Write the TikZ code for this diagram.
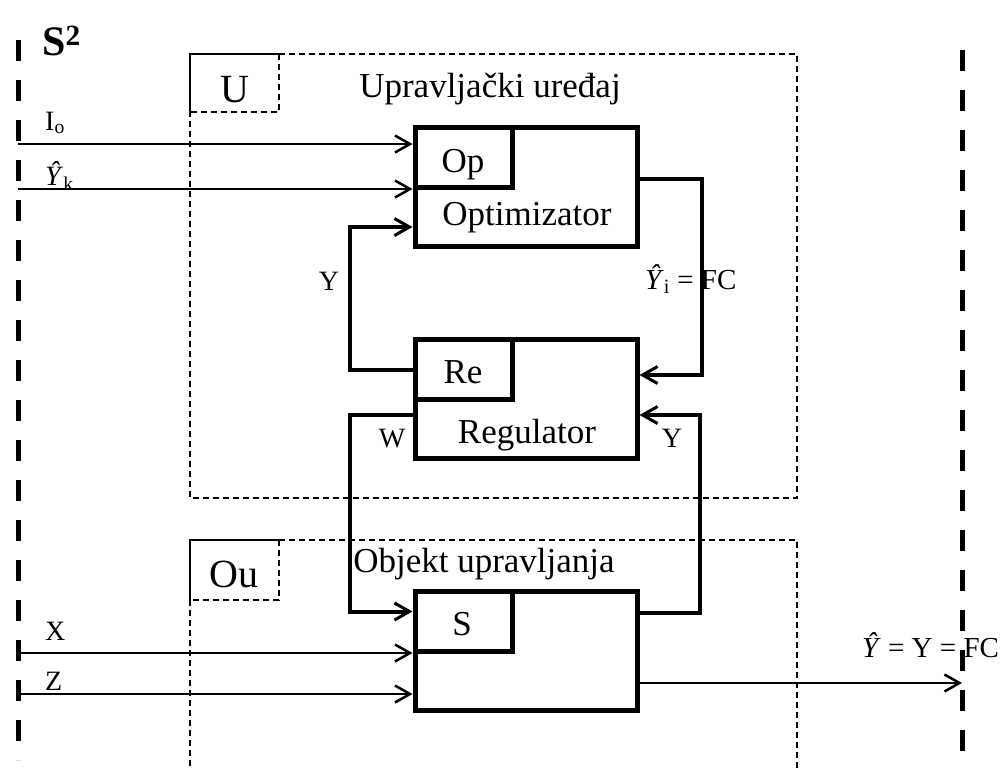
\documentclass[tikz,border=0pt]{standalone}
\usepackage{fontspec}
\setmainfont{Liberation Serif}
\usetikzlibrary{arrows.meta,calc}

\tikzset{
    block/.style={draw, line width=5pt, minimum width=222pt, minimum height=119pt, inner sep=0pt},
    subblock/.style={draw, line width=5pt, minimum width=97pt, minimum height=60pt, inner sep=0pt, anchor=north west},
    frame/.style={line width=1.3pt, dash pattern=on 6pt off 4pt},
    border/.style={line width=5pt, dash pattern=on 21pt off 19pt},
    sig/.style={line width=2.5pt, -{Straight Barb[length=15pt, width=17pt, line width=2.5pt]}},
    fb/.style={line width=4pt, -{Straight Barb[length=15pt, width=17pt, line width=3pt]}},
    bigtxt/.style={inner sep=0pt, anchor=base, font=\fontsize{35}{40}\selectfont},
    boxtxt/.style={inner sep=0pt, anchor=base, font=\fontsize{40}{44}\selectfont},
    lbl/.style={inner sep=0pt, anchor=base, font=\fontsize{28}{32}\selectfont},
    eqlbl/.style={inner sep=0pt, anchor=base west, font=\fontsize{29}{33}\selectfont}
}
\newcommand{\yhat}{\textit{Ŷ}}

\begin{document}
\begin{tikzpicture}[x=1pt, y=-1pt]
    \useasboundingbox (0,0) rectangle (1007,769);

    % Granice sistema
    \draw[border] (18,40) -- (18,760);
    \draw[border] (962,50) -- (962,760);
    \node[inner sep=0pt, anchor=base west, font=\fontsize{42}{46}\selectfont\bfseries] (s2) at (42,55) {S\textsuperscript{2}};

    % Upravljacki uredjaj
    \draw[line width=1.3pt] (190,112) -- (190,54) -- (279,54);
    \draw[frame] (279,54) -- (279,112) -- (190,112);
    \draw[frame] (279,54) -- (797,54) -- (797,498) -- (190,498) -- (190,112);
    \node[boxtxt] (lu) at (235,102) {U};
    \node[bigtxt] (tu) at (490,97) {Upravljački uređaj};

    % Objekt upravljanja
    \draw[line width=1.3pt] (190,600) -- (190,540) -- (279,540);
    \draw[frame] (279,540) -- (279,600) -- (190,600);
    \draw[frame] (279,540) -- (797,540) -- (797,769);
    \draw[frame] (190,600) -- (190,769);
    \node[boxtxt] (lou) at (234,587) {Ou};
    \node[bigtxt] (tou) at (484,572) {Objekt upravljanja};

    % Blokovi
    \node[block] (opt) at (526,186.5) {};
    \node[subblock] (op) at (opt.north west) {};
    \node[block] (reg) at (526,399) {};
    \node[subblock] (re) at (reg.north west) {};
    \node[block] (obj) at (526,651) {};
    \node[subblock] (s) at (obj.north west) {};

    \node[bigtxt] (top) at (463,172) {Op};
    \node[bigtxt] (topt) at (527,225) {Optimizator};
    \node[bigtxt] (tre) at (463,383) {Re};
    \node[bigtxt] (treg) at (527,443) {Regulator};
    \node[bigtxt] (ts) at (462,635) {S};

    % Ulazi
    \coordinate (io) at (18,144);
    \coordinate (yk) at (18,189);
    \coordinate (x) at (18,653);
    \coordinate (z) at (18,694);
    \draw[sig] (io) -- (io -| opt.west);
    \draw[sig] (yk) -- (yk -| opt.west);
    \draw[sig] (x) -- (x -| obj.west);
    \draw[sig] (z) -- (z -| obj.west);
    \node[lbl, anchor=base west] (lio) at (45,130) {I\textsubscript{o}};
    \node[lbl, anchor=base west] (lyk) at (45,185) {\yhat\textsubscript{k}};
    \node[lbl, anchor=base west] (lx) at (45,640) {X};
    \node[lbl, anchor=base west] (lz) at (45,690) {Z};

    % Povratne veze
    \coordinate (yl) at (350,227);
    \draw[fb] (re.west) -| (yl) -- (yl -| opt.west);
    \draw[fb] ([yshift=8pt]opt.east) -- ++(62,0) |- ([yshift=24pt]reg.east);
    \draw[fb] ([yshift=-16pt]reg.west) -- ++(-63,0) |- ([yshift=10pt]s.west);
    \draw[fb] ([yshift=38pt]obj.east) -- ++(60,0) |- ([yshift=-16pt]reg.east);
    \node[lbl] (ly) at (329,290) {Y};
    \node[lbl] (lw) at (392,447) {W};
    \node[lbl] (ly2) at (672,447) {Y};
    \node[eqlbl] (lyi) at (645,289) {\yhat\textsubscript{i} = FC};

    % Izlaz
    \coordinate (out) at (962,683);
    \draw[sig] ([yshift=-32pt]obj.east) -- (out);
    \node[eqlbl] (lout) at (862,657) {\yhat{} = Y = FC};
\end{tikzpicture}
\end{document}
